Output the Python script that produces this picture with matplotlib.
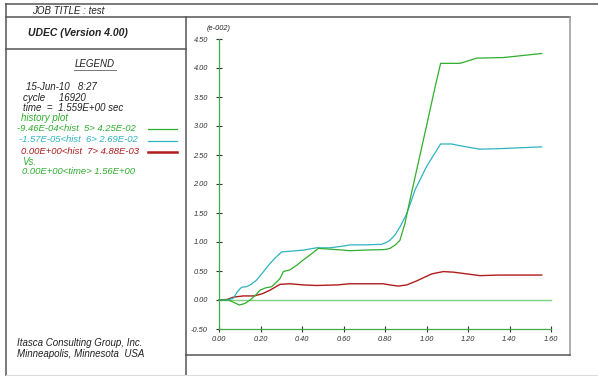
import matplotlib
matplotlib.use("Agg")
import matplotlib.pyplot as plt
from matplotlib.lines import Line2D

# ---------------- data (values in e-002) ----------------
green_t = [0, 0.045, 0.07, 0.098, 0.125, 0.15, 0.175, 0.198, 0.225, 0.254, 0.275, 0.294,
           0.31, 0.342, 0.375, 0.406, 0.44, 0.479, 0.52, 0.56, 0.6, 0.63, 0.7, 0.8, 0.824,
           0.85, 0.872, 0.896, 0.92, 0.95, 1.0, 1.04, 1.068, 1.161, 1.242, 1.37, 1.555]
green_v = [0, 0, -0.04, -0.086, -0.06, 0, 0.08, 0.17, 0.21, 0.23, 0.3, 0.37,
           0.49, 0.52, 0.6, 0.69, 0.78, 0.89, 0.88, 0.87, 0.86, 0.85, 0.86, 0.87, 0.89,
           0.95, 1.03, 1.32, 1.72, 2.2, 3.0, 3.65, 4.08, 4.08, 4.17, 4.18, 4.25]

cyan_t = [0, 0.04, 0.069, 0.09, 0.109, 0.133, 0.155, 0.18, 0.21, 0.246, 0.275, 0.302,
          0.342, 0.406, 0.47, 0.535, 0.6, 0.631, 0.7, 0.784, 0.805, 0.824, 0.85, 0.872,
          0.9, 0.92, 0.945, 1.0, 1.068, 1.121, 1.161, 1.258, 1.354, 1.555]
cyan_v = [0, 0, 0.03, 0.15, 0.22, 0.23, 0.27, 0.34, 0.47, 0.63, 0.74, 0.83,
          0.84, 0.86, 0.9, 0.9, 0.93, 0.95, 0.95, 0.96, 0.99, 1.03, 1.13, 1.26,
          1.45, 1.64, 1.9, 2.3, 2.69, 2.69, 2.66, 2.6, 2.61, 2.64]

red_t = [0, 0.04, 0.07, 0.117, 0.17, 0.21, 0.246, 0.294, 0.342, 0.406, 0.47, 0.57,
         0.63, 0.79, 0.824, 0.864, 0.905, 0.953, 1.025, 1.081, 1.13, 1.194, 1.258,
         1.346, 1.555]
red_v = [0, 0.01, 0.05, 0.07, 0.07, 0.11, 0.17, 0.27, 0.28, 0.26, 0.25, 0.26,
         0.28, 0.28, 0.26, 0.24, 0.26, 0.33, 0.45, 0.49, 0.48, 0.45, 0.42,
         0.43, 0.43]

zero_t = [0.0, 1.6]
zero_v = [0.0, 0.0]

x_ticks = [0.0, 0.2, 0.4, 0.6, 0.8, 1.0, 1.2, 1.4, 1.6]
y_ticks = [-0.5, 0.0, 0.5, 1.0, 1.5, 2.0, 2.5, 3.0, 3.5, 4.0, 4.5]

GREEN = "#2fae2f"
CYAN = "#2fb3c0"
RED = "#b01c1c"
TXT = "#222222"

legend_lines = [
    ("-9.46E-04<hist  5> 4.25E-02", GREEN),
    ("-1.57E-05<hist  6> 2.69E-02", CYAN),
    ("0.00E+00<hist  7> 4.88E-03", RED),
]

# ---------------- figure ----------------
W, H = 598, 376
fig = plt.figure(figsize=(W / 100, H / 100), dpi=100)
fig.patch.set_facecolor("white")
plt.rcParams['font.family'] = ['Liberation Sans', 'DejaVu Sans']


def fx(x):
    return x / W


def fy(y):
    return 1 - y / H


def hline(y, x0, x1, color="#555555", lw=1.1):
    fig.add_artist(Line2D([fx(x0), fx(x1)], [fy(y), fy(y)], color=color, lw=lw,
                          transform=fig.transFigure))


def vline(x, y0, y1, color="#555555", lw=1.1):
    fig.add_artist(Line2D([fx(x), fx(x)], [fy(y0), fy(y1)], color=color, lw=lw,
                          transform=fig.transFigure))


def txt(x, y, s, color=TXT, size=7, **kw):
    fig.text(fx(x), fy(y), s, color=color, fontsize=size, style="italic",
             va="center", ha=kw.pop("ha", "left"), **kw)


# frame
hline(4, 6, 598)
hline(17, 6, 570)
vline(6, 4, 376)
vline(186, 17, 376)
hline(49, 6, 186)
vline(570, 17, 355, color="#999999")
hline(355, 186, 570)
hline(375, 6, 598, color="#dddddd", lw=0.8)

# left panel texts
txt(32, 11, "JOB TITLE : test", size=7)
txt(28, 33, "UDEC (Version 4.00)", size=7.5, weight="bold")
txt(95, 64, "LEGEND", size=7, ha="center")
hline(70, 74, 116, color="#777777", lw=0.7)
txt(26, 87, "15-Jun-10   8:27")
txt(23, 98, "cycle     16920")
txt(23, 108, "time  =  1.559E+00 sec")
txt(21, 118, "history plot", color=GREEN)
ys = [128, 140, 151]
xs = [17, 19, 21]
for (label, col), yy, xx in zip(legend_lines, ys, xs):
    txt(xx, yy, label, color=col, size=6.8)
    hline(yy + 1, 148, 177, color=col, lw=1.8 if col == RED else 0.9)
txt(22, 162, "Vs.", color=GREEN)
txt(22, 172, "0.00E+00<time> 1.56E+00", color=GREEN, size=6.8)
txt(17, 343, "Itasca Consulting Group, Inc.")
txt(17, 354, "Minneapolis, Minnesota  USA")

# plot axes: x 0..1.6 -> px 219..551, y -0.5..4.5 -> px 329..39
ax = fig.add_axes([fx(219), fy(329), fx(551) - fx(219), fy(39) - fy(329)])
ax.set_xlim(0, 1.6)
ax.set_ylim(-0.5, 4.5)
ax.patch.set_alpha(0)
for s in ["top", "right"]:
    ax.spines[s].set_visible(False)
for s in ["left", "bottom"]:
    ax.spines[s].set_color("#44aa44")
    ax.spines[s].set_linewidth(0.9)

ax.plot(zero_t, zero_v, color="#7fd07f", lw=1.0, clip_on=False)
ax.plot(red_t, red_v, color=RED, lw=1.0, clip_on=False)
ax.plot(cyan_t, cyan_v, color=CYAN, lw=0.9, clip_on=False)
ax.plot(green_t, green_v, color=GREEN, lw=0.9, clip_on=False)

ax.set_xticks(x_ticks)
ax.set_yticks(y_ticks)
ax.set_xticklabels([f"{v:.2f}" for v in x_ticks])
ax.set_yticklabels([f"{v:.2f}" for v in y_ticks])
ax.tick_params(axis="both", direction="inout", length=4, width=0.8, color="#333333",
               labelsize=5.3, labelcolor="#333333")
ax.tick_params(axis="y", pad=6)
ax.tick_params(axis="x", pad=3)
for lab in ax.get_xticklabels() + ax.get_yticklabels():
    lab.set_style("italic")

txt(207, 29, "(e-002)", size=5.3)

fig.savefig("out.png", dpi=100, facecolor="white")
